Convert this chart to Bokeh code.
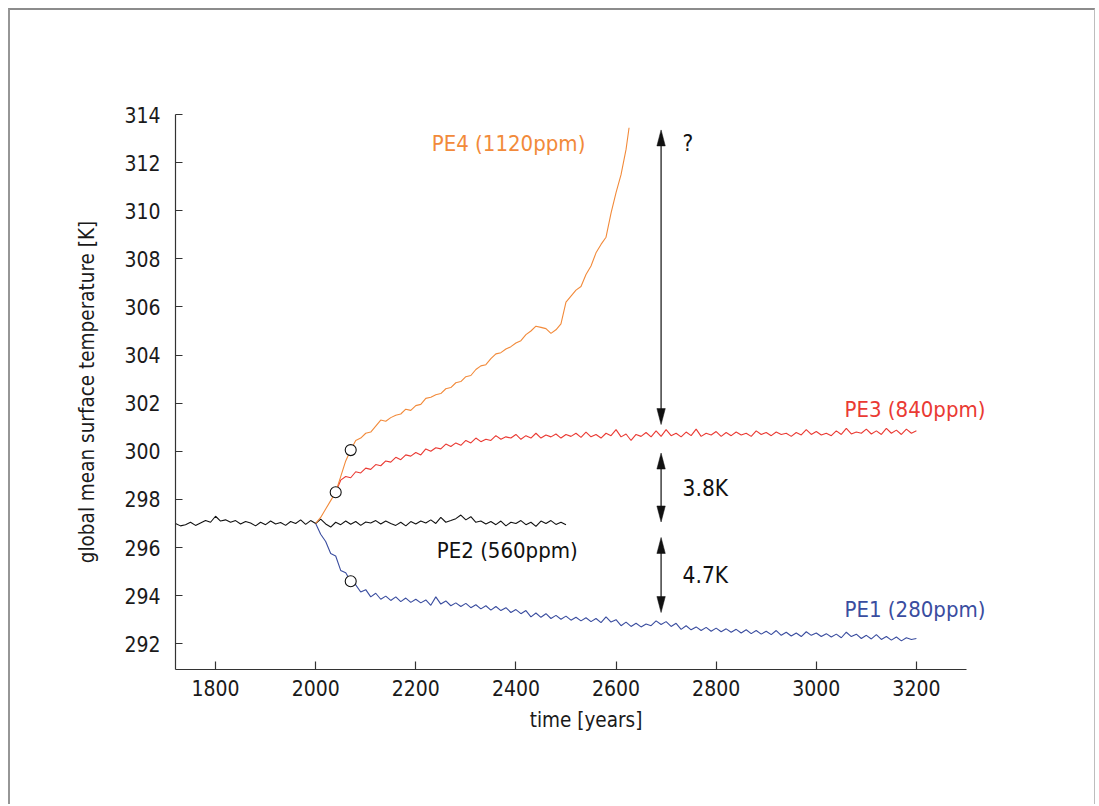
from bokeh.plotting import figure
from bokeh.models import Range1d, FixedTicker, Label
from bokeh.embed import file_html
from bokeh.resources import INLINE

# ---- data -------------------------------------------------------------
STEP = 10  # years between samples

# PE2 (560 ppm) control run, 1720-2500
pe2_start = 1720
pe2_temp = [
    297.00, 296.90, 296.95, 297.05, 296.92, 297.02, 297.12, 297.05, 297.30, 297.10,
    297.15, 297.05, 297.12, 296.98, 297.08, 297.02, 296.90, 297.05, 296.95, 297.10,
    296.98, 297.04, 296.92, 297.08, 297.00, 297.15, 296.96, 297.12, 297.00, 297.18,
    296.98, 296.85, 297.05, 296.95, 297.10, 296.97, 297.08, 296.92, 297.06, 297.02,
    297.12, 296.98, 297.10, 297.00, 296.92, 297.05, 296.90, 297.08, 296.98, 297.10,
    297.02, 297.15, 297.00, 297.25, 297.05, 297.12, 297.20, 297.35, 297.15, 297.28,
    297.05, 297.10, 296.98, 297.08, 296.95, 297.10, 296.90, 297.05, 297.00, 297.12,
    296.95, 297.05, 296.88, 297.10, 297.00, 297.12, 296.96, 297.05, 296.95,
]

# PE1 (280 ppm), 2000-3200
pe1_start = 2000
pe1_temp = [
    297.00, 296.55, 296.25, 295.75, 295.65, 295.05, 294.95, 294.60, 294.45, 294.15,
    294.25, 293.95, 294.10, 293.85, 293.98, 293.80, 293.95, 293.75, 293.90, 293.72,
    293.85, 293.70, 293.82, 293.60, 293.95, 293.65, 293.78, 293.58, 293.70, 293.55,
    293.68, 293.50, 293.62, 293.45, 293.58, 293.40, 293.55, 293.38, 293.50, 293.30,
    293.42, 293.25, 293.38, 293.12, 293.28, 293.10, 293.25, 293.05, 293.18, 293.02,
    293.15, 292.98, 293.10, 292.95, 293.08, 292.92, 293.05, 292.88, 293.12, 292.90,
    293.00, 292.75, 292.90, 292.72, 292.85, 292.70, 292.82, 292.75, 292.95, 292.80,
    292.92, 292.72, 292.85, 292.60, 292.75, 292.58, 292.70, 292.55, 292.68, 292.52,
    292.65, 292.50, 292.62, 292.48, 292.60, 292.45, 292.58, 292.42, 292.55, 292.40,
    292.52, 292.38, 292.55, 292.35, 292.48, 292.32, 292.45, 292.30, 292.50, 292.35,
    292.45, 292.30, 292.42, 292.28, 292.40, 292.25, 292.48, 292.30, 292.40, 292.22,
    292.35, 292.20, 292.38, 292.18, 292.30, 292.15, 292.28, 292.12, 292.25, 292.18,
    292.22,
]

# PE3 (840 ppm), 2040-3200
pe3_start = 2040
pe3_temp = [
    298.30, 298.80, 298.95, 298.90, 299.15, 299.10, 299.30, 299.25, 299.45, 299.40,
    299.60, 299.55, 299.75, 299.65, 299.85, 299.80, 299.95, 299.85, 300.10, 300.00,
    300.15, 300.10, 300.30, 300.20, 300.35, 300.25, 300.45, 300.35, 300.55, 300.40,
    300.50, 300.45, 300.65, 300.50, 300.60, 300.55, 300.70, 300.50, 300.65, 300.55,
    300.75, 300.55, 300.68, 300.60, 300.72, 300.55, 300.70, 300.62, 300.75, 300.58,
    300.80, 300.60, 300.70, 300.55, 300.75, 300.65, 300.90, 300.60, 300.72, 300.45,
    300.70, 300.62, 300.78, 300.60, 300.85, 300.62, 300.90, 300.65, 300.75, 300.60,
    300.80, 300.65, 300.92, 300.62, 300.75, 300.68, 300.82, 300.62, 300.78, 300.65,
    300.80, 300.68, 300.75, 300.62, 300.85, 300.70, 300.78, 300.65, 300.80, 300.70,
    300.75, 300.62, 300.78, 300.68, 300.90, 300.70, 300.82, 300.68, 300.75, 300.65,
    300.85, 300.70, 300.95, 300.72, 300.80, 300.75, 300.92, 300.72, 300.85, 300.70,
    300.95, 300.75, 300.88, 300.70, 300.92, 300.75, 300.85,
]

# PE4 (1120 ppm), runaway until 2626
pe4_years = [
    2000, 2010, 2020, 2030, 2040, 2050, 2060, 2070, 2080, 2090,
    2100, 2110, 2120, 2130, 2140, 2150, 2160, 2170, 2180, 2190,
    2200, 2210, 2220, 2230, 2240, 2250, 2260, 2270, 2280, 2290,
    2300, 2310, 2320, 2330, 2340, 2350, 2360, 2370, 2380, 2390,
    2400, 2410, 2420, 2430, 2440, 2450, 2460, 2470, 2480, 2490,
    2500, 2510, 2520, 2530, 2540, 2550, 2560, 2570, 2580, 2590,
    2600, 2610, 2620, 2626,
]
pe4_temp = [
    297.00, 297.25, 297.60, 297.95, 298.30, 298.95, 299.60, 300.05, 300.45, 300.55,
    300.75, 300.80, 301.05, 301.30, 301.25, 301.40, 301.50, 301.55, 301.75, 301.70,
    301.90, 301.95, 302.20, 302.25, 302.35, 302.40, 302.60, 302.65, 302.85, 302.90,
    303.10, 303.15, 303.40, 303.55, 303.60, 303.85, 304.05, 304.10, 304.25, 304.35,
    304.50, 304.60, 304.85, 305.00, 305.20, 305.15, 305.10, 304.90, 305.05, 305.30,
    306.20, 306.45, 306.70, 306.85, 307.35, 307.70, 308.25, 308.60, 308.90, 309.90,
    310.75, 311.50, 312.55, 313.45,
]

# branch points marked with open circles: (series, year)
branch_marks = [("PE4", 2040), ("PE4", 2070), ("PE1", 2070)]

# equilibrium levels used for the difference arrows
level_pe1 = 292.3
level_pe2 = 297.0
level_pe3 = 300.8
level_pe4_top = 313.4

x_ticks = [1800, 2000, 2200, 2400, 2600, 2800, 3000, 3200]
y_ticks = [292, 294, 296, 298, 300, 302, 304, 306, 308, 310, 312, 314]

# ---- style ------------------------------------------------------------
FONT = "DejaVu Sans Condensed"
C_PE1 = "#3a4d9f"
C_PE2 = "#111111"
C_PE3 = "#ea3a33"
C_PE4 = "#f28a3a"

X0, X1 = 1720, 3360          # plotting area reaches past the axis for the labels
AXIS_END = 3300              # drawn extent of the time axis
Y0, Y1 = 290.93, 314
PX_PER_YEAR = 0.50063
FRAME_W = round((X1 - X0) * PX_PER_YEAR)
FRAME_H = 555


def years_from(start, vals):
    return [start + STEP * i for i in range(len(vals))]


series = {
    "PE1": (years_from(pe1_start, pe1_temp), pe1_temp, C_PE1),
    "PE2": (years_from(pe2_start, pe2_temp), pe2_temp, C_PE2),
    "PE3": (years_from(pe3_start, pe3_temp), pe3_temp, C_PE3),
    "PE4": (pe4_years, pe4_temp, C_PE4),
}

p = figure(
    width=1087, height=796,
    x_range=Range1d(X0, X1), y_range=Range1d(Y0, Y1),
    output_backend="svg", toolbar_location=None,
    min_border_left=165, min_border_top=104,
    min_border_right=1087 - 165 - FRAME_W,
    min_border_bottom=796 - 104 - FRAME_H,
)
p.styles = {
    "margin-left": "8px",
    "margin-top": "8px",
    "border-top": "2px solid #8c8c8c",
    "border-left": "2px solid #969696",
    "border-right": "1px solid #bdbdbd",
}
p.outline_line_color = None
p.xgrid.visible = False
p.ygrid.visible = False
p.background_fill_color = "white"
p.border_fill_color = "white"

for ax in (p.xaxis[0], p.yaxis[0]):
    ax.axis_line_color = "#333333"
    ax.axis_line_width = 1.2
    ax.major_tick_line_color = "#333333"
    ax.major_tick_line_width = 1.2
    ax.major_tick_out = 0
    ax.minor_tick_line_color = None
    ax.major_label_text_font = FONT
    ax.major_label_text_font_size = "21px"
    ax.major_label_text_color = "#1a1a1a"
    ax.axis_label_text_font = FONT
    ax.axis_label_text_font_size = "20.5px"
    ax.axis_label_text_font_style = "normal"
    ax.axis_label_text_color = "#1a1a1a"

p.xaxis.bounds = (X0, AXIS_END)
p.xaxis.ticker = FixedTicker(ticks=x_ticks)
p.yaxis.ticker = FixedTicker(ticks=y_ticks)
p.xaxis.major_tick_in = 8
p.yaxis.major_tick_in = 7
p.xaxis.major_label_standoff = 10
p.yaxis.major_label_standoff = 15
p.xaxis.axis_label = "time [years]"
p.yaxis.axis_label = "global mean surface temperature [K]"
p.xaxis.axis_label_standoff = 9
p.yaxis.axis_label_standoff = 22

# ---- curves -------------------------------------------------------------
for name in ("PE2", "PE3", "PE1", "PE4"):
    xs, ys, col = series[name]
    p.line(xs, ys, line_color=col, line_width=1.1)

# open circles at branch points, read from the series themselves
mx, my = [], []
for name, yr in branch_marks:
    xs, ys, _ = series[name]
    i = xs.index(yr)
    mx.append(xs[i])
    my.append(ys[i])
p.scatter(mx, my, size=11, marker="circle", fill_color="white",
          line_color="#111111", line_width=1.1)

# ---- difference arrows --------------------------------------------------
ARROW_YEAR = 2690
px_per_k = FRAME_H / (Y1 - Y0)
HEAD_LEN = 16 / px_per_k
HEAD_HALF = 4.2 / PX_PER_YEAR

# (lower level, upper level, gap below tip px, gap above tip px, label)
arrows = [
    (level_pe3, level_pe4_top, 7.5, 1.0, "?"),
    (level_pe2, level_pe3, 1.5, 21.0, f"{level_pe3 - level_pe2:.1f}K"),
    (level_pe1, level_pe2, 24.0, 14.0, f"{level_pe2 - level_pe1:.1f}K"),
]
seg_x0, seg_y0, seg_x1, seg_y1 = [], [], [], []
head_xs, head_ys = [], []
for lo, hi, gap_lo, gap_hi, txt in arrows:
    y_lo = lo + gap_lo / px_per_k
    y_hi = hi - gap_hi / px_per_k
    seg_x0.append(ARROW_YEAR); seg_y0.append(y_lo + HEAD_LEN * 0.5)
    seg_x1.append(ARROW_YEAR); seg_y1.append(y_hi - HEAD_LEN * 0.5)
    head_xs.append([ARROW_YEAR, ARROW_YEAR - HEAD_HALF, ARROW_YEAR + HEAD_HALF])
    head_ys.append([y_hi, y_hi - HEAD_LEN, y_hi - HEAD_LEN])
    head_xs.append([ARROW_YEAR, ARROW_YEAR - HEAD_HALF, ARROW_YEAR + HEAD_HALF])
    head_ys.append([y_lo, y_lo + HEAD_LEN, y_lo + HEAD_LEN])
    ty = 312.8 if txt == "?" else (y_lo + y_hi) / 2
    p.add_layout(Label(x=2733, y=ty, text=txt, text_font=FONT,
                       text_font_size="22.5px", text_color="#111111",
                       text_baseline="middle", text_align="left"))

p.segment(seg_x0, seg_y0, seg_x1, seg_y1, line_color="#222222", line_width=1.3)
p.patches(head_xs, head_ys, fill_color="#111111", line_color="#111111", line_width=0.5)

# ---- series labels ------------------------------------------------------
series_labels = [
    ("PE4 (1120ppm)", 2232, 312.8, "left", C_PE4),
    ("PE3 (840ppm)", 3338, 301.73, "right", C_PE3),
    ("PE2 (560ppm)", 2242, 295.87, "left", C_PE2),
    ("PE1 (280ppm)", 3338, 293.42, "right", C_PE1),
]
for txt, x, y, align, col in series_labels:
    p.add_layout(Label(x=x, y=y, text=txt, text_font=FONT, text_font_size="22px",
                       text_color=col, text_align=align, text_baseline="middle"))

open("out.html", "w").write(file_html(p, INLINE))
